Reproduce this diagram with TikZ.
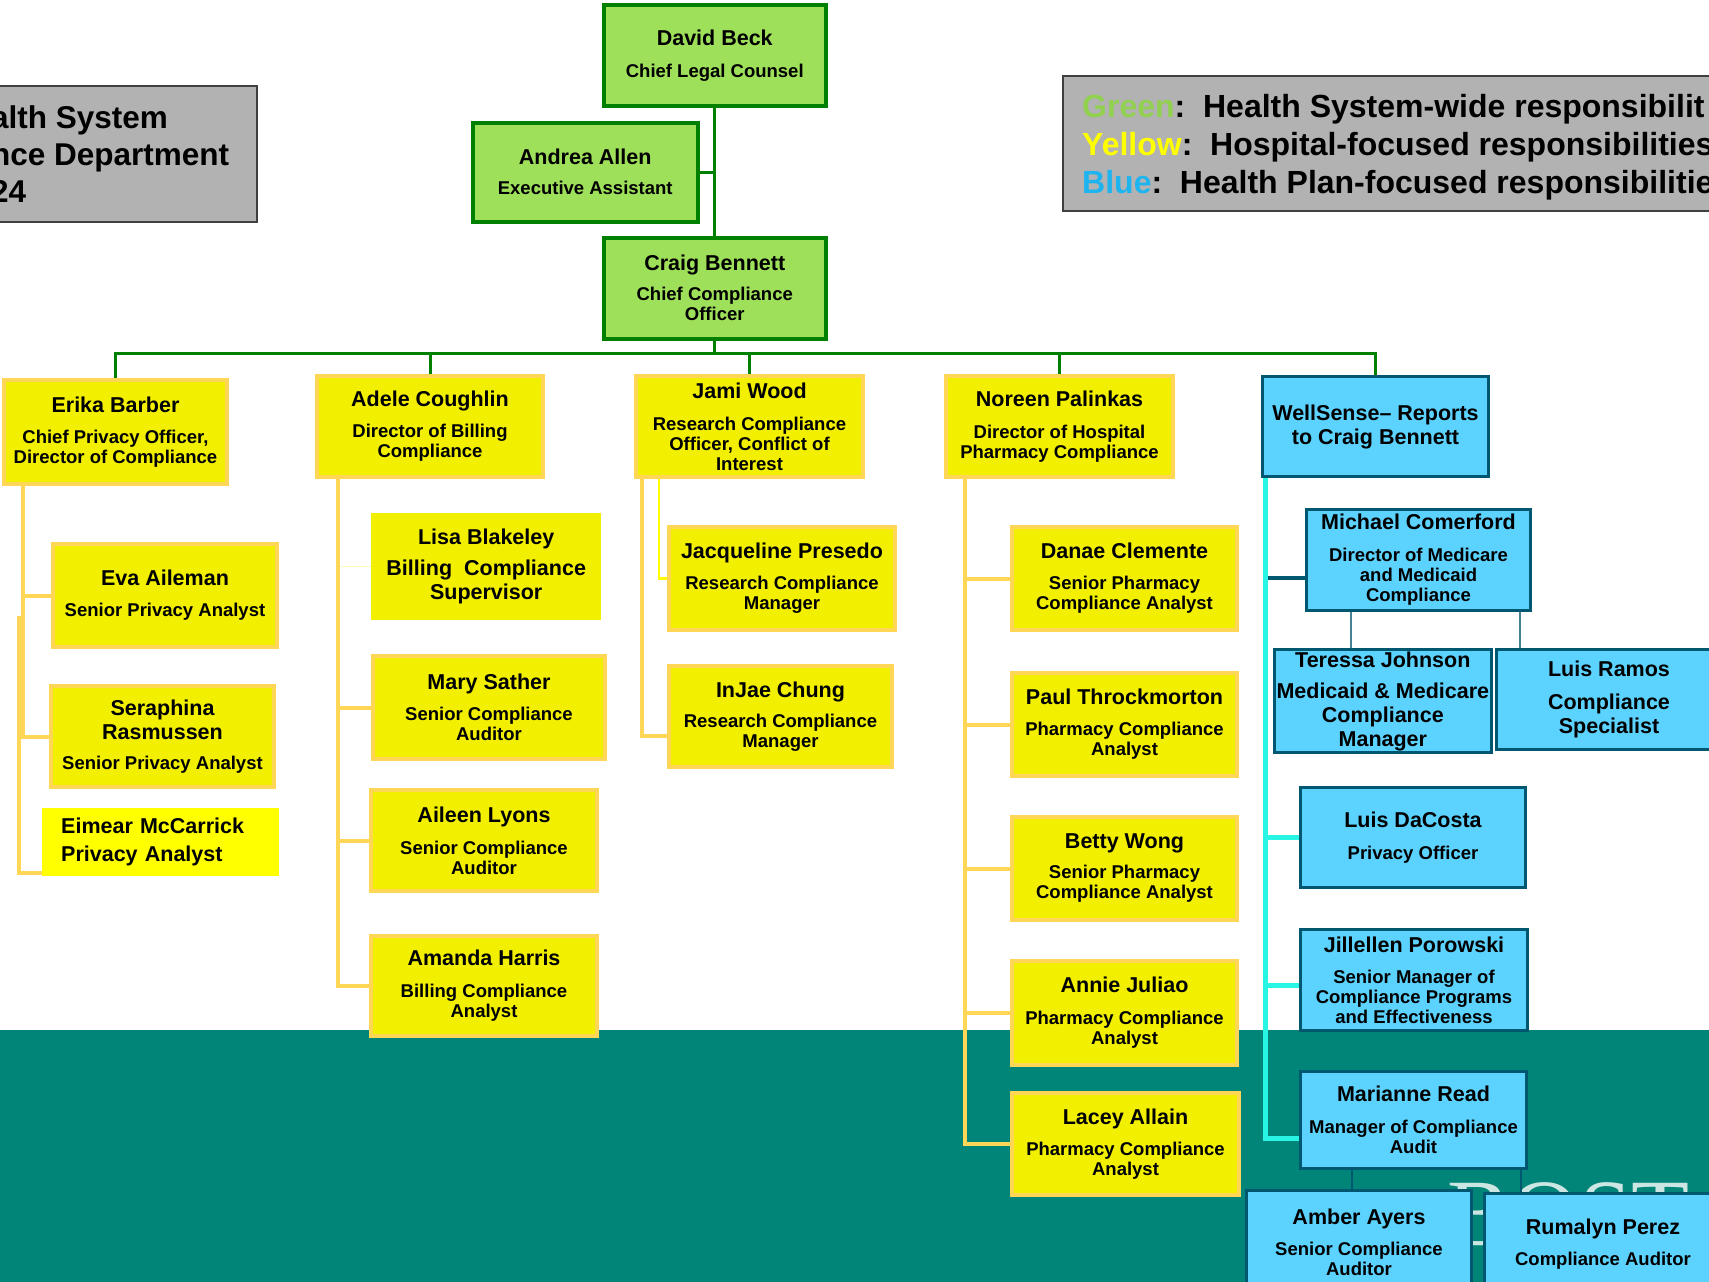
\documentclass[tikz,border=0pt]{standalone}
\usepackage{fontspec}
\setmainfont{Liberation Sans}
\newfontfamily\wmfont{Liberation Serif}
\usetikzlibrary{calc}

\definecolor{gfill}{RGB}{158,224,90}
\definecolor{gline}{RGB}{0,128,0}
\definecolor{yfill}{RGB}{242,240,0}
\definecolor{yline}{RGB}{255,214,85}
\definecolor{ypure}{RGB}{255,255,0}
\definecolor{ypale}{RGB}{250,250,185}
\definecolor{bfill}{RGB}{92,211,255}
\definecolor{bline}{RGB}{0,88,112}
\definecolor{bthin}{RGB}{70,130,150}
\definecolor{cyanc}{RGB}{40,245,228}
\definecolor{tealbg}{RGB}{0,133,120}
\definecolor{grayfill}{RGB}{178,178,178}
\definecolor{grayline}{RGB}{64,64,64}
\definecolor{legG}{RGB}{146,208,80}
\definecolor{legY}{RGB}{255,255,0}
\definecolor{legB}{RGB}{30,180,240}

\newcommand\namefnt{\fontsize{21.5}{24}\selectfont\bfseries}
\newcommand\subfnt{\fontsize{18.5}{20}\selectfont\bfseries}
\newcommand\bigfnt{\fontsize{32}{37}\selectfont\bfseries}
% \obox{name}{x1}{y1}{x2}{y2}{style}{text}
\newcommand\obox[7]{\node[#6,anchor=north west,minimum width={(#4)-(#2)},minimum height={(#5)-(#3)}] (#1) at (#2,#3) {#7};}

\tikzset{
  card/.style={align=center,inner sep=2pt,font=\subfnt,text=black},
  gbox/.style={card,draw=gline,fill=gfill,line width=3.5pt},
  ybox/.style={card,draw=yline,fill=yfill,line width=4pt},
  yplain/.style={card,fill=yfill},
  eimbox/.style={card,fill=ypure,align=left,inner xsep=19pt,text width=199pt,font=\namefnt},
  bbox/.style={card,draw=bline,fill=bfill,line width=3pt},
  allname/.style={font=\namefnt},
  gconn/.style={draw=gline,line width=3pt},
  yconn/.style={draw=yline,line width=4pt},
  ythin/.style={draw=ypure,line width=2.5pt},
  ypaleconn/.style={draw=ypale,line width=1.5pt},
  cconn/.style={draw=cyanc,line width=5pt},
  bconn/.style={draw=bline,line width=3.5pt},
  bthinconn/.style={draw=bthin,line width=1.5pt},
  graybox/.style={draw=grayline,fill=grayfill,line width=1.5pt},
  bigtext/.style={font=\bigfnt,text=black,inner sep=0pt,anchor=base west},
  titletext/.style={bigtext,font=\fontsize{31.5}{37}\selectfont\bfseries},
}

\begin{document}
\begin{tikzpicture}[x=1pt,y=-1pt]
\useasboundingbox (0,0) rectangle (1709,1282);
\clip (0,0) rectangle (1709,1282);
\fill[white] (0,0) rectangle (1709,1282);
\fill[tealbg] (0,1030) rectangle (1709,1282);

% title block
\draw[graybox] (-10,86) rectangle (257,222);
\node[titletext] (t1) at (-9,128) {alth System};
\node[titletext] (t2) at (-9,165) {nce Department};
\node[titletext] (t3) at (-9,202) {24};

% colour key
\draw[graybox] (1063,76) rectangle (1730,211);
\node[bigtext] (leg1) at (1082,117.5) {\textcolor{legG}{Green}:~~Health System-wide responsibilit};
\node[bigtext] (leg2) at (1082,155.5) {\textcolor{legY}{Yellow}:~~Hospital-focused responsibilities};
\node[bigtext] (leg3) at (1082,193.5) {\textcolor{legB}{Blue}:~~Health Plan-focused responsibilitie};

% faint lettering behind the lower boxes
\node[anchor=north west,inner sep=0pt,font=\wmfont\fontsize{95}{95}\selectfont,text=white,opacity=0.8] (wm) at (1447,1182) {BOST};

% green level
\obox{david}{602}{3}{824}{104}{gbox}{{\namefnt David Beck}\\[12pt]Chief Legal Counsel}
\obox{andrea}{471}{121}{696}{220}{gbox}{{\namefnt Andrea Allen}\\[10pt]Executive Assistant}
\obox{craig}{602}{236}{824}{337}{gbox}{{\namefnt Craig Bennett}\\[10pt]Chief Compliance\\Officer}

% direct reports
\obox{erika}{2}{378}{225}{482}{ybox}{{\namefnt Erika Barber}\\[11pt]Chief Privacy Officer,\\Director of Compliance}
\obox{adele}{315}{374}{541}{475}{ybox}{{\namefnt Adele Coughlin}\\[11pt]Director of Billing\\Compliance}
\obox{jami}{634}{374}{861}{475}{ybox}{{\namefnt Jami Wood}\\[12pt]Research Compliance\\Officer, Conflict of\\Interest}
\obox{noreen}{944}{374}{1171}{475}{ybox}{{\namefnt Noreen Palinkas}\\[12pt]Director of Hospital\\Pharmacy Compliance}
\obox{wellsense}{1261}{375}{1487}{475}{bbox,allname}{WellSense– Reports\\to Craig Bennett}

% privacy
\obox{eva}{51}{542}{275}{645}{ybox}{{\namefnt Eva Aileman}\\[11pt]Senior Privacy Analyst}
\obox{sera}{49}{684}{272}{785}{ybox}{{\namefnt Seraphina}\\[4pt]{\namefnt Rasmussen}\\[10pt]Senior Privacy Analyst}
\obox{eimear}{42}{808}{279}{876}{eimbox}{Eimear McCarrick\\[4pt]Privacy Analyst}

% billing
\obox{lisa}{371}{513}{601}{620}{yplain,allname}{Lisa Blakeley\\[7pt]Billing~~Compliance\\Supervisor}
\obox{mary}{371}{654}{603}{757}{ybox}{{\namefnt Mary Sather}\\[11pt]Senior Compliance\\Auditor}
\obox{aileen}{369}{788}{595}{889}{ybox}{{\namefnt Aileen Lyons}\\[12pt]Senior Compliance\\Auditor}
\obox{amanda}{369}{934}{595}{1034}{ybox}{{\namefnt Amanda Harris}\\[12pt]Billing Compliance\\Analyst}

% research
\obox{jacq}{667}{525}{893}{628}{ybox}{{\namefnt Jacqueline Presedo}\\[11pt]Research Compliance\\Manager}
\obox{injae}{667}{664}{890}{765}{ybox}{{\namefnt InJae Chung}\\[10pt]Research Compliance\\Manager}

% pharmacy
\obox{danae}{1010}{525}{1235}{628}{ybox}{{\namefnt Danae Clemente}\\[11pt]Senior Pharmacy\\Compliance Analyst}
\obox{paul}{1010}{671}{1235}{774}{ybox}{{\namefnt Paul Throckmorton}\\[11pt]Pharmacy Compliance\\Analyst}
\obox{betty}{1010}{815}{1235}{918}{ybox}{{\namefnt Betty Wong}\\[10pt]Senior Pharmacy\\Compliance Analyst}
\obox{annie}{1010}{959}{1235}{1063}{ybox}{{\namefnt Annie Juliao}\\[12pt]Pharmacy Compliance\\Analyst}
\obox{lacey}{1010}{1091}{1237}{1193}{ybox}{{\namefnt Lacey Allain}\\[11pt]Pharmacy Compliance\\Analyst}

% health plan
\obox{michael}{1305}{508}{1529}{609}{bbox}{{\namefnt Michael Comerford}\\[12pt]Director of Medicare\\and Medicaid\\Compliance}
\obox{teressa}{1273}{648}{1488}{748}{bbox,allname}{Teressa Johnson\\[7pt]Medicaid \& Medicare\\Compliance\\Manager}
\obox{lramos}{1495}{648}{1720}{748}{bbox,allname}{Luis Ramos\\[9pt]Compliance\\Specialist}
\obox{dacosta}{1299}{786}{1524}{886}{bbox}{{\namefnt Luis DaCosta}\\[12pt]Privacy Officer}
\obox{jill}{1299}{928}{1526}{1029}{bbox}{{\namefnt Jillellen Porowski}\\[11pt]Senior Manager of\\Compliance Programs\\and Effectiveness}
\obox{marianne}{1299}{1070}{1525}{1167}{bbox}{{\namefnt Marianne Read}\\[12pt]Manager of Compliance\\Audit}
\obox{amber}{1245}{1189}{1470}{1293}{bbox}{{\namefnt Amber Ayers}\\[11pt]Senior Compliance\\Auditor}
\obox{rumalyn}{1483}{1192}{1720}{1293}{bbox}{{\namefnt Rumalyn Perez}\\[11pt]Compliance Auditor}

% green reporting lines
\draw[gconn] (david.south) -- (craig.north);
\draw[gconn] (andrea.east) -- (andrea.east -| david.south);
\coordinate (busc) at ($(craig.south)+(0,13)$);
\draw[gconn] (craig.south) -- (busc);
\foreach \n in {erika,adele,jami,noreen,wellsense} \draw[gconn] (\n.north) |- (busc);

% privacy lines
\coordinate (erT) at ([xshift=21pt]erika.south west);
\draw[yconn] (erT) |- (eva.west);
\draw[yconn] (erT) |- (sera.west);
\coordinate (erT2) at (19,616);
\draw[yconn] (erT2) |- ([yshift=3pt]eimear.south west);

% billing lines
\coordinate (adT) at ([xshift=23pt]adele.south west);
\draw[ypaleconn] (adT |- lisa.west) -- (lisa.west);
\foreach \n in {mary,aileen,amanda} \draw[yconn] (adT) |- (\n.west);

% research lines
\coordinate (jaT) at ([xshift=8pt]jami.south west);
\coordinate (jaT2) at ([xshift=25pt]jami.south west);
\draw[yconn] (jaT) |- ([yshift=-19pt]injae.west);
\draw[ythin] (jaT2) |- (jacq.west);

% pharmacy lines
\coordinate (noT) at ([xshift=21pt]noreen.south west);
\foreach \n in {danae,paul,betty,annie,lacey} \draw[yconn] (noT) |- (\n.west);

% health plan lines
\coordinate (wsT) at ([xshift=4pt]wellsense.south west);
\coordinate (mcIn) at ([yshift=-18pt]michael.west);
\draw[bconn] (mcIn) -- (mcIn -| wsT);
\draw[cconn] (wsT) |- (dacosta.west);
\draw[cconn] (wsT) |- ([yshift=-5pt]jill.west);
\draw[cconn] (wsT) |- ([yshift=-18pt]marianne.west);
\coordinate (mcA) at ([xshift=46pt]michael.south west);
\coordinate (mcB) at ([xshift=215pt]michael.south west);
\draw[bthinconn] (mcA) -- (mcA |- teressa.north);
\draw[bthinconn] (mcB) -- (mcB |- lramos.north);
\coordinate (mrA) at ([xshift=53pt]marianne.south west);
\coordinate (mrB) at ([xshift=222pt]marianne.south west);
\draw[bthinconn,draw=bline] (mrA) -- (mrA |- amber.north);
\draw[bthinconn,draw=bline] (mrB) -- (mrB |- rumalyn.north);
\end{tikzpicture}
\end{document}
